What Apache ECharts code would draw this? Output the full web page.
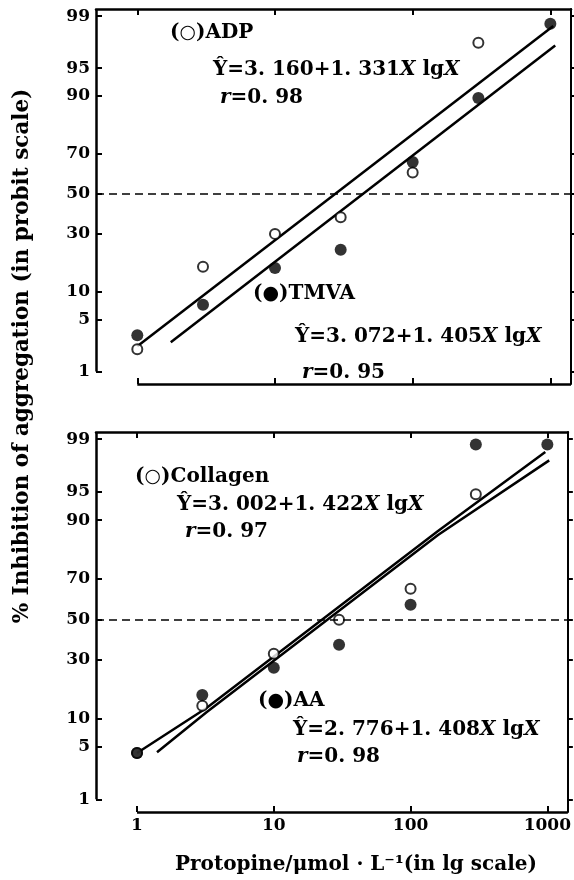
<!DOCTYPE html>
<html>
<head>
<meta charset="utf-8">
<script src="https://cdn.jsdelivr.net/npm/echarts@6/dist/echarts.min.js"></script>
<style>
html,body{margin:0;padding:0;background:#fff}
#main{width:574px;height:880px}
</style>
</head>
<body>
<div id="main"></div>
<script>
// protopine concentration, umol/L
var doses = [1, 3, 10, 30, 100, 300, 1000];

// % inhibition (null = no point)
var adpPct      = [2.1, 17, 30, 38, 61, 97.6, null];
var tmvaPct     = [3.2, 7.3, 16.6, 23.2, 66.2, 89.5, 98.7];
var collagenPct = [4.2, 13.2, 32.8, 49.8, 65.4, 94.7, null];
var aaPct       = [4.2, 16.4, 26.6, 37.1, 57.5, 98.8, 98.8];

// fitted lines, vertices as drawn in the figure
var adpFitX  = [1, 1050],    adpFitPct  = [2.3, 98.6];
var tmvaFitX = [1.75, 1085], tmvaFitPct = [2.6, 97.4];
var colFitX  = [1, 3.22, 158.7, 966],   colFitPct = [4.2, 12.6, 87.3, 98.47];
var aaFitX   = [1.4, 3.22, 158.7, 1032], aaFitPct = [4.3, 11.5, 86.2, 98.0];

// axis ticks
var pctTicks = [1, 5, 10, 30, 50, 70, 90, 95, 99];
var doseTicks = [1, 10, 100, 1000];

// percent -> probit (5 + z), Acklam's approximation
function probit(p) {
    var q = p / 100, z, r, s;
    var a = [-3.969683028665376e+01, 2.209460984245205e+02, -2.759285104469687e+02, 1.383577518672690e+02, -3.066479806614716e+01, 2.506628277459239e+00];
    var b = [-5.447609879822406e+01, 1.615858368580409e+02, -1.556989798598866e+02, 6.680131188771972e+01, -1.328068155288572e+01];
    var c = [-7.784894002430293e-03, -3.223964580411365e-01, -2.400758277161838e+00, -2.549732539343734e+00, 4.374664141464968e+00, 2.938163982698783e+00];
    var d = [7.784695709041462e-03, 3.224671290700398e-01, 2.445134137142996e+00, 3.754408661907416e+00];
    if (q < 0.02425) {
        r = Math.sqrt(-2 * Math.log(q));
        z = (((((c[0]*r+c[1])*r+c[2])*r+c[3])*r+c[4])*r+c[5]) / ((((d[0]*r+d[1])*r+d[2])*r+d[3])*r+1);
    } else if (q <= 1 - 0.02425) {
        r = q - 0.5; s = r * r;
        z = (((((a[0]*s+a[1])*s+a[2])*s+a[3])*s+a[4])*s+a[5])*r / (((((b[0]*s+b[1])*s+b[2])*s+b[3])*s+b[4])*s+1);
    } else {
        r = Math.sqrt(-2 * Math.log(1 - q));
        z = -(((((c[0]*r+c[1])*r+c[2])*r+c[3])*r+c[4])*r+c[5]) / ((((d[0]*r+d[1])*r+d[2])*r+d[3])*r+1);
    }
    return 5 + z;
}

var Y_MIN = 2.51, Y_MAX = 7.42, X_MIN = -0.3, X_MAX = 3.15;
var FONT = 'DejaVu Serif';
var yTickVals = pctTicks.map(probit);
var xTickVals = doseTicks.map(function (d) { return Math.log10(d); });

function pts(xs, ps) {
    var out = [];
    for (var i = 0; i < xs.length; i++) {
        if (ps[i] != null) out.push([Math.log10(xs[i]), probit(ps[i])]);
    }
    return out;
}

function yLabel(v) {
    for (var i = 0; i < yTickVals.length; i++) {
        if (Math.abs(yTickVals[i] - v) < 1e-6) return String(pctTicks[i]);
    }
    return '';
}

function xAxes(g, labels) {
    return [{
        type: 'value', gridIndex: g, min: X_MIN, max: X_MAX,
        axisLine: {show: false, onZero: false},
        axisTick: {show: true, inside: true, length: 6, customValues: xTickVals,
            lineStyle: {color: '#000', width: 2}},
        axisLabel: {show: labels, customValues: xTickVals, margin: 5,
            color: '#000', fontFamily: FONT, fontWeight: 'bold', fontSize: 17,
            formatter: function (v) { return String(Math.round(Math.pow(10, v))); }},
        splitLine: {show: false}
    }, {
        type: 'value', gridIndex: g, position: 'top', min: X_MIN, max: X_MAX,
        axisLine: {show: true, onZero: false, lineStyle: {color: '#000', width: 2.5}},
        axisTick: {show: true, inside: true, length: 6, customValues: xTickVals,
            lineStyle: {color: '#000', width: 2}},
        axisLabel: {show: false},
        splitLine: {show: false}
    }];
}

function yAxes(g) {
    return [{
        type: 'value', gridIndex: g, min: Y_MIN, max: Y_MAX,
        axisLine: {show: false, onZero: false},
        axisTick: {show: true, inside: true, length: 6, customValues: yTickVals,
            lineStyle: {color: '#000', width: 2}},
        axisLabel: {customValues: yTickVals, margin: 6, formatter: yLabel,
            color: '#000', fontFamily: FONT, fontWeight: 'bold', fontSize: 17},
        splitLine: {show: false}
    }, {
        type: 'value', gridIndex: g, position: 'right', min: Y_MIN, max: Y_MAX,
        axisLine: {show: true, onZero: false, lineStyle: {color: '#000', width: 2}},
        axisTick: {show: true, inside: false, length: 5, customValues: yTickVals,
            lineStyle: {color: '#000', width: 2}},
        axisLabel: {show: false},
        splitLine: {show: false}
    }];
}

function frame(g) {
    return {
        type: 'line', xAxisIndex: g * 2, yAxisIndex: g * 2, data: [], clip: false,
        silent: true,
        markLine: {
            symbol: ['none', 'none'], silent: true, animation: false,
            label: {show: false},
            emphasis: {disabled: true},
            lineStyle: {color: '#000', type: 'solid', width: 2.5},
            data: [
                [{coord: [X_MIN, probit(pctTicks[0])]}, {coord: [X_MIN, Y_MAX]}],
                [{coord: [0, Y_MIN]}, {coord: [X_MAX, Y_MIN]}],
                {yAxis: probit(50), lineStyle: {type: [8, 5], width: 1.6}}
            ]
        }
    };
}

function fit(g, xs, ps) {
    return {
        type: 'line', xAxisIndex: g * 2, yAxisIndex: g * 2, data: pts(xs, ps),
        symbol: 'none', silent: true, clip: false,
        lineStyle: {color: '#000', width: 2.5}
    };
}

function dots(g, ps, filled) {
    return {
        type: 'scatter', xAxisIndex: g * 2, yAxisIndex: g * 2, data: pts(doses, ps),
        symbol: 'circle', symbolSize: filled ? 12 : 10, silent: true, clip: false,
        z: filled ? 4 : 3,
        itemStyle: filled ? {color: '#000'} : {color: '#fff', borderColor: '#000', borderWidth: 2}
    };
}

var rich = {
    n: {fontFamily: FONT, fontWeight: 'bold', fontSize: 20, color: '#000'},
    i: {fontFamily: FONT, fontWeight: 'bold', fontStyle: 'italic', fontSize: 20, color: '#000'},
    c: {fontFamily: 'DejaVu Sans', fontWeight: 'bold', fontSize: 19, color: '#000'}
};

function note(x, y, text) {
    return {
        type: 'text', x: x, y: y, silent: true,
        style: {text: text, rich: rich, fill: '#000', align: 'left', verticalAlign: 'middle',
            font: 'bold 20px "' + FONT + '"'}
    };
}

function name(x, y, mark, label) {
    return note(x, y, '{n|(}{c|' + mark + '}{n|)' + label + '}');
}

function eq(x, y, a, b) {
    return note(x, y, '{n|Ŷ=' + a + '+' + b + '}{i|X} {n|lg}{i|X}');
}

function rr(x, y, v) {
    return note(x, y, '{i|r}{n|=' + v + '}');
}

var chart = echarts.init(document.getElementById('main'));
chart.setOption({
    animation: false,
    backgroundColor: '#fff',
    grid: [
        {left: 96, top: 9, width: 475, height: 375},
        {left: 96, top: 432, width: 475, height: 380}
    ],
    xAxis: xAxes(0, false).concat(xAxes(1, true)),
    yAxis: yAxes(0).concat(yAxes(1)),
    series: [
        frame(0),
        fit(0, adpFitX, adpFitPct),
        fit(0, tmvaFitX, tmvaFitPct),
        dots(0, adpPct, false),
        dots(0, tmvaPct, true),
        frame(1),
        fit(1, colFitX, colFitPct),
        fit(1, aaFitX, aaFitPct),
        dots(1, collagenPct, false),
        dots(1, aaPct, true)
    ],
    graphic: [
        name(170, 33, '○', 'ADP'),
        eq(213, 70, '3. 160', '1. 331'),
        rr(220, 98, '0. 98'),
        name(253, 294, '●', 'TMVA'),
        eq(295, 337, '3. 072', '1. 405'),
        rr(302, 373, '0. 95'),
        name(135, 477, '○', 'Collagen'),
        eq(177, 505, '3. 002', '1. 422'),
        rr(185, 532, '0. 97'),
        name(258, 701, '●', 'AA'),
        eq(293, 730, '2. 776', '1. 408'),
        rr(297, 757, '0. 98'),
        {
            type: 'text', x: 22, y: 356, rotation: Math.PI / 2, silent: true,
            style: {text: '% Inhibition of aggregation (in probit scale)', fill: '#000',
                align: 'center', verticalAlign: 'middle', font: 'bold 21.5px "' + FONT + '"'}
        },
        {
            type: 'text', x: 356, y: 865, silent: true,
            style: {text: 'Protopine/μmol · L⁻¹(in lg scale)', fill: '#000',
                align: 'center', verticalAlign: 'middle', font: 'bold 20px "' + FONT + '"'}
        }
    ]
});
</script>
</body>
</html>
